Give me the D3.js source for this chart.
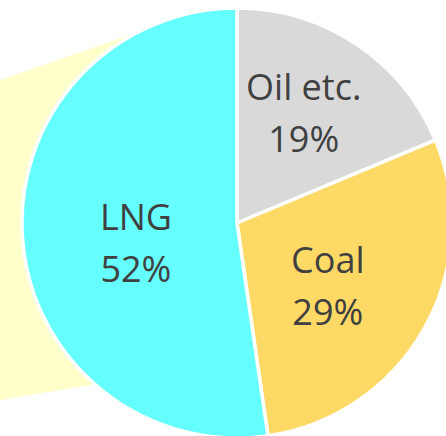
<!DOCTYPE html>
<html>
  <head>
    <script src="https://d3js.org/d3.v7.min.js"></script>
    <style>
      body { margin: 0; background: #fff; }
      .slice { stroke: #fff; stroke-width: 3.5; }
      .label { font-family: "Open Sans", sans-serif; font-size: 36px; fill: #404040; text-anchor: middle; }
    </style>
  </head>
  <body>
    <svg width="446" height="436"></svg>
    <script>
      // fuel mix (share of generation, %)
      var categories = ["Oil etc.", "Coal", "LNG"];
      var shares = [18.7, 29.0, 52.3];
      var colors = ["#D9D9D9", "#FFD966", "#66FFFF"];

      var svg = d3.select("svg");
      var cx = 237, cy = 223, r = 215;

      // pale wedge of the neighbouring chart, peeking out behind the pie
      svg.append("path")
        .attr("d", "M0,80 L170,21 L170,372 L0,400 Z")
        .style("fill", "#FFFFCC");

      var data = categories.map((c, i) => ({ name: c, value: shares[i], color: colors[i] }));

      var pie = d3.pie().sort(null).value(d => d.value);
      var arc = d3.arc().innerRadius(0).outerRadius(r);
      var labelArc = d3.arc().innerRadius(r * 0.56).outerRadius(r * 0.56);

      var g = svg.append("g").attr("transform", `translate(${cx},${cy})`);

      var arcs = pie(data);

      g.selectAll("path.slice")
        .data(arcs)
        .enter()
        .append("path")
          .attr("class", "slice")
          .attr("d", arc)
          .style("fill", d => d.data.color);

      // small nudges, like the "best fit" placement of the original
      var nudge = { "Oil etc.": [0, -10], "Coal": [-14, 4], "LNG": [19, 11] };
      var fmt = d3.format(".0f");

      var lab = g.selectAll("g.lab")
        .data(arcs)
        .enter()
        .append("g")
          .attr("class", "lab")
          .attr("transform", d => {
            var c = labelArc.centroid(d), n = nudge[d.data.name];
            return `translate(${c[0] + n[0]},${c[1] + n[1]})`;
          });
      lab.append("text")
        .attr("class", "label")
        .attr("y", -13)
        .text(d => d.data.name);
      lab.append("text")
        .attr("class", "label")
        .attr("y", 39)
        .text(d => fmt(d.data.value) + "%");
    </script>
  </body>
</html>
